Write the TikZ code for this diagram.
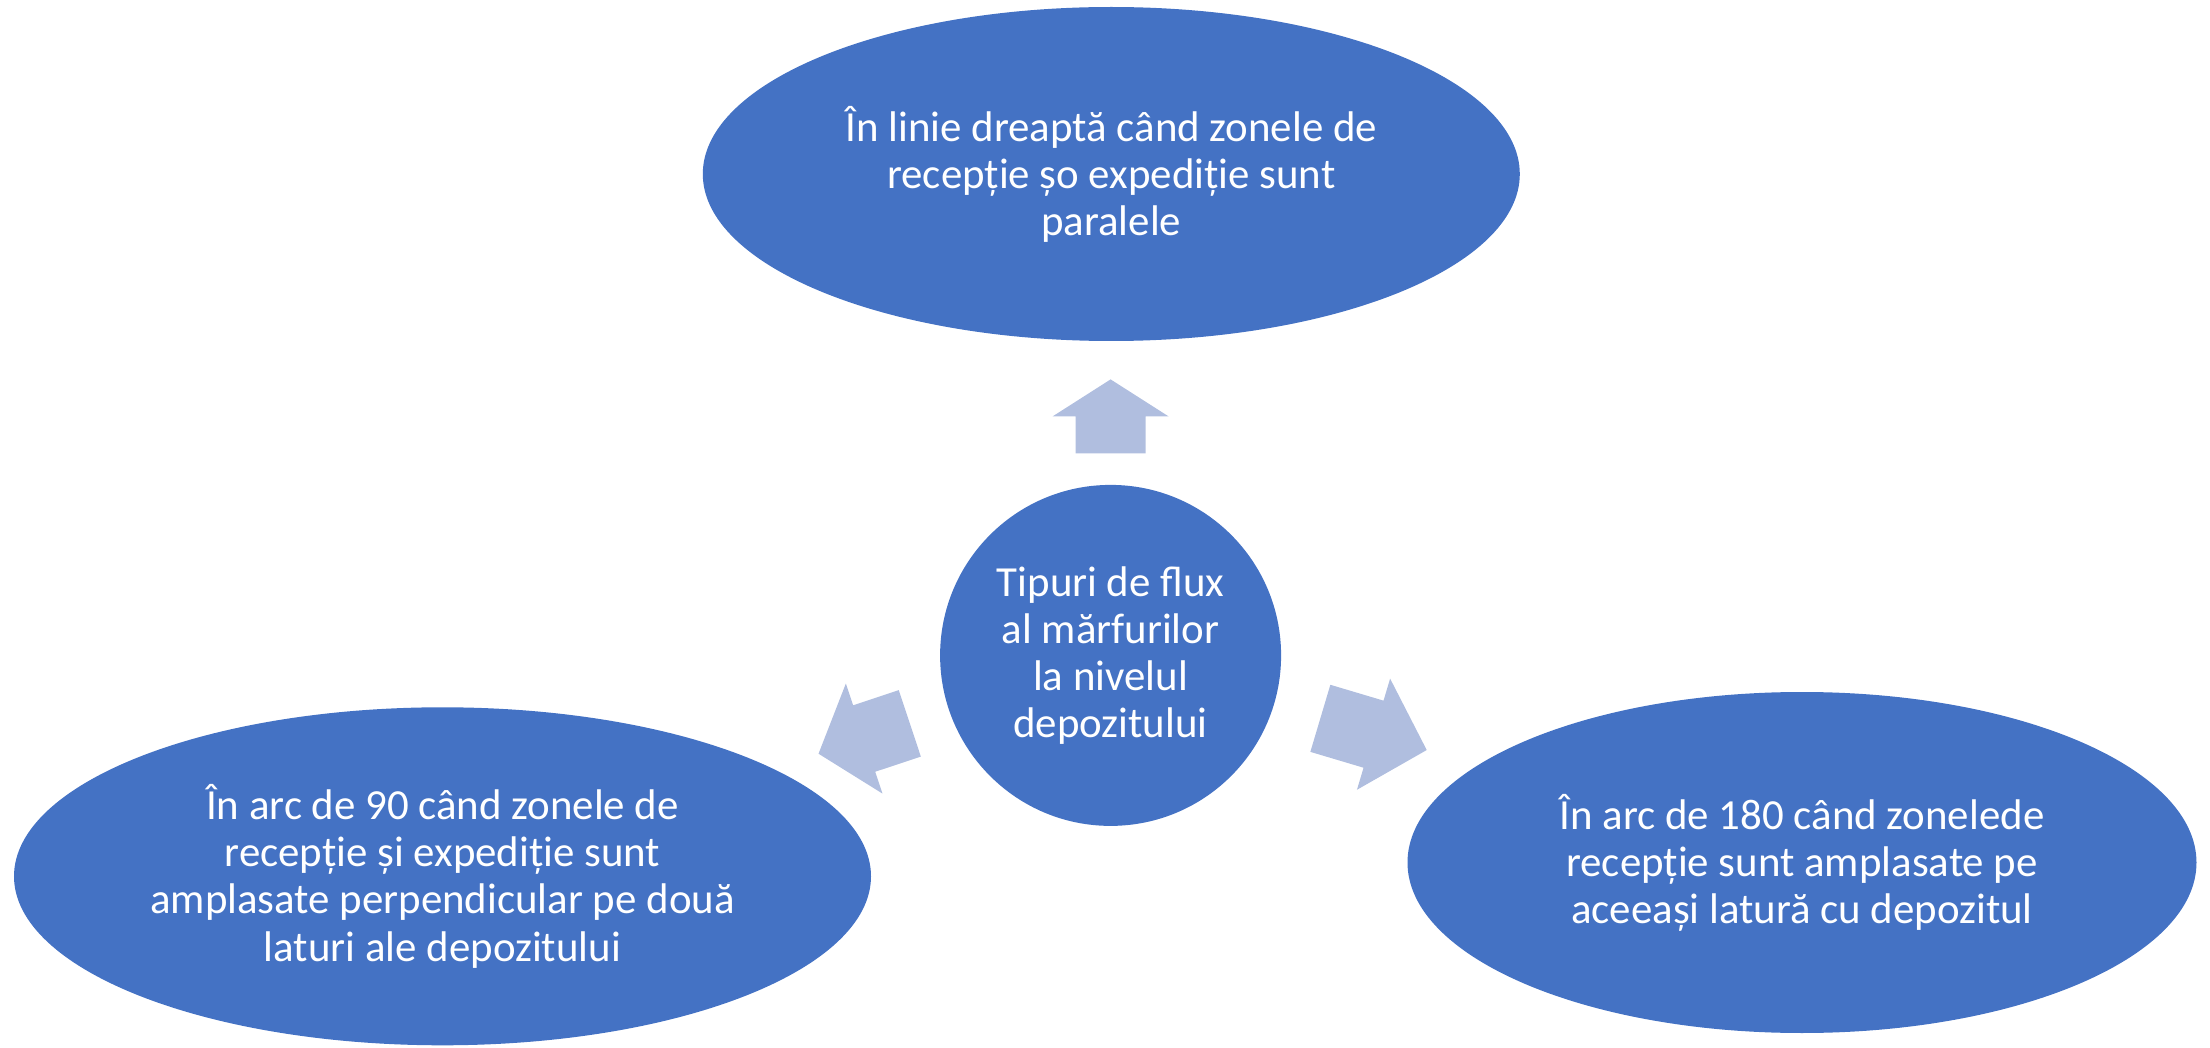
\documentclass[tikz,border=0pt]{standalone}
\usepackage{fontspec}
\setmainfont{Carlito}
\usetikzlibrary{shapes.geometric, calc}

\definecolor{ovalblue}{HTML}{4472C4}
\definecolor{arrowblue}{HTML}{B0BEDF}

\tikzset{
  oval/.style={ellipse, fill=ovalblue, text=white, inner sep=0pt, align=center,
    font=\fontsize{12.2}{13.4}\selectfont},
  hubcircle/.style={circle, fill=ovalblue, text=white, inner sep=0pt, align=center,
    minimum size=3.41cm, font=\fontsize{12.2}{13.4}\selectfont},
  pics/flowarrow/.style={code={
    \fill[arrowblue] (0,-.35) -- ({#1/2},-.35) -- ({#1/2},-.58) -- (#1,0)
      -- ({#1/2},.58) -- ({#1/2},.35) -- (0,.35) -- cycle;
  }}
}

\begin{document}
\begin{tikzpicture}
    \useasboundingbox (0,0) rectangle (22.1,10.47);
    \node[hubcircle] (hub) at (11.106,3.916)
      {Tipuri de flux\\al mărfurilor\\la nivelul\\depozitului};
    \node[oval, minimum width=8.17cm, minimum height=3.34cm] (straight) at (11.113,8.73)
      {În linie dreaptă când zonele de\\recepție șo expediție sunt\\paralele};
    \node[oval, minimum width=8.57cm, minimum height=3.38cm] (arcninety) at (4.425,1.707)
      {În arc de 90 când zonele de\\recepție și expediție sunt\\amplasate perpendicular pe două\\laturi ale depozitului};
    \node[oval, minimum width=7.89cm, minimum height=3.41cm] (arconeeighty) at (18.02,1.845)
      {În arc de 180 când zonelede\\recepție sunt amplasate pe\\aceeași latură cu depozitul};
    % block arrows from the hub
    \pic[rotate=90] at ($(hub)+(90:2.02)$) {flowarrow=0.74};
    \pic[rotate=198.4] at ($(hub)+(198.7:2.12)$) {flowarrow=0.962};
    \pic[rotate=-16.6] at ($(hub)+(-16.7:2.19)$) {flowarrow=1.11};
  \end{tikzpicture}
\end{document}
